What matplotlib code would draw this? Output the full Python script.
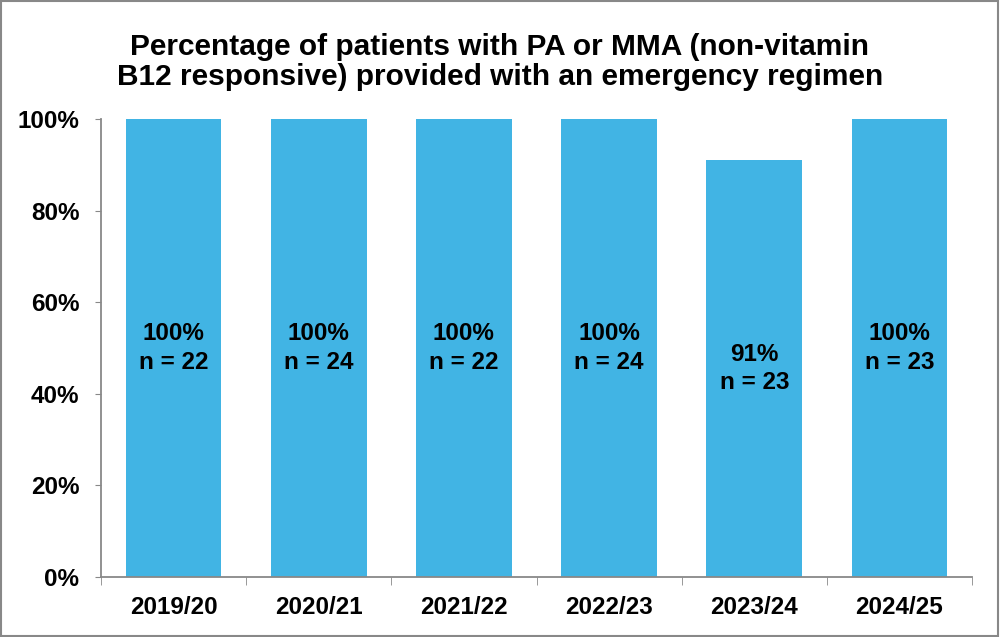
import matplotlib.pyplot as plt
from matplotlib.patches import Rectangle
from matplotlib.ticker import FuncFormatter

plt.rcParams['font.family'] = ['Liberation Sans', 'DejaVu Sans']
plt.rcParams['font.weight'] = 'bold'

years = ['2019/20', '2020/21', '2021/22', '2022/23', '2023/24', '2024/25']
pct = [100, 100, 100, 100, 91, 100]
n_patients = [22, 24, 22, 24, 23, 23]

fig = plt.figure(figsize=(10, 6.37), dpi=100)
ax = fig.add_axes([0.101, 0.0942, 0.871, 0.719])

x = list(range(len(years)))
ax.bar(x, [p / 100 for p in pct], width=0.66, color='#41B4E4')

for xi, p, n in zip(x, pct, n_patients):
    ax.text(xi, p / 200, '{0}%\nn = {1}'.format(p, n), ha='center', va='center',
            fontsize=17.5, fontweight='bold', linespacing=1.3)

ax.set_xlim(-0.5, len(years) - 0.5)
ax.set_ylim(0, 1)
ax.set_yticks([0, 0.2, 0.4, 0.6, 0.8, 1.0])
ax.yaxis.set_major_formatter(FuncFormatter(lambda v, pos: '{0:.0f}%'.format(v * 100)))
ax.set_xticks(x)
ax.set_xticklabels(years)
ax.set_xticks([i - 0.5 for i in range(len(years) + 1)], minor=True)
ax.tick_params(axis='x', which='major', length=0, pad=14, labelsize=17.5)
ax.tick_params(axis='x', which='minor', length=6, color='#888888', direction='out')
ax.tick_params(axis='y', length=4.5, color='#888888', direction='out', pad=11, labelsize=17.5)
for s in ['top', 'right']:
    ax.spines[s].set_visible(False)
for s in ['left', 'bottom']:
    ax.spines[s].set_color('#888888')
    ax.spines[s].set_linewidth(1.3)

fig.text(0.5, 0.903, 'Percentage of patients with PA or MMA (non-vitamin\nB12 responsive) provided with an emergency regimen',
         ha='center', va='center', fontsize=21.5, fontweight='bold', linespacing=1.1)

fig.patches.append(Rectangle((0.001, 0.002), 0.997, 0.996, transform=fig.transFigure,
                             fill=False, edgecolor='#888888', linewidth=1.5))

fig.savefig('out.png', dpi=100)
